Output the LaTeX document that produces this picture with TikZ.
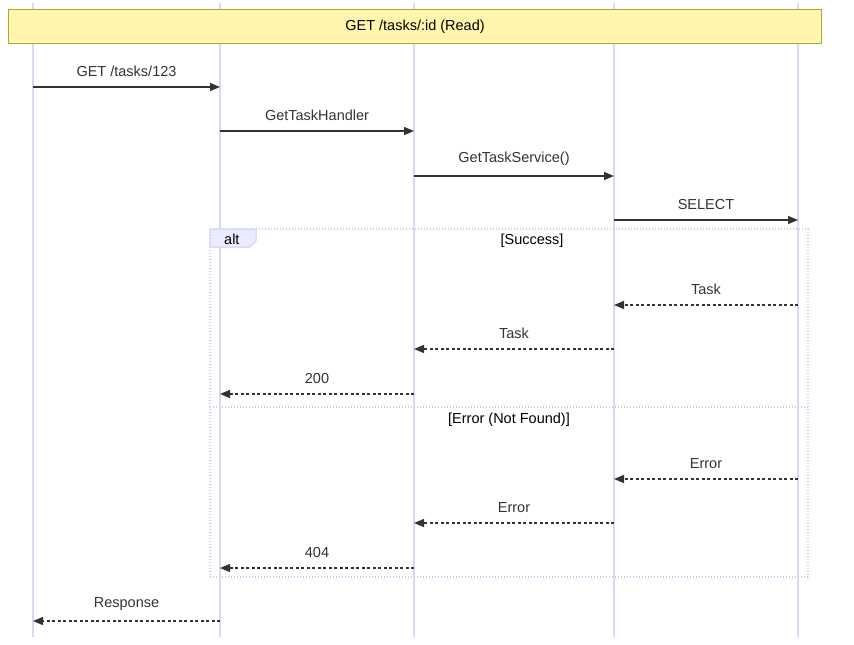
\documentclass[tikz,border=0pt]{standalone}
\usepackage{fontspec}
\setmainfont{Liberation Sans}
\usetikzlibrary{arrows.meta}
\usetikzlibrary{calc}
\definecolor{lifeC}{RGB}{221,214,248}
\definecolor{noteF}{RGB}{255,245,173}
\definecolor{noteD}{RGB}{170,170,51}
\definecolor{altD}{RGB}{204,204,245}
\definecolor{tabF}{RGB}{236,236,255}
\definecolor{msgC}{RGB}{51,51,51}

\begin{document}
\begin{tikzpicture} [x=1pt, y=-1pt,
        life/.style = {draw=lifeC, line width=1.5pt},
        msg/.style = {draw=msgC, line width=1.3pt, -{Triangle[length=10pt, width=8pt]}},
        reply/.style = {msg, dash pattern=on 3pt off 2.5pt},
        lbl/.style = {font=\fontsize{14.5}{16}\selectfont, text=msgC, inner sep=0pt},
        frame/.style = {draw=altD, line width=1.3pt, dash pattern=on 1.3pt off 1.7pt}]
        \useasboundingbox (0,0) rectangle (854,645);
        \fontsize{14.5}{16}\selectfont

        %Lebenslinien
        \coordinate (l1) at (33,3);
        \coordinate (l2) at (220,3);
        \coordinate (l3) at (414,3);
        \coordinate (l4) at (614,3);
        \coordinate (l5) at (798,3);
        \coordinate (bot) at (0,637);

        \draw[life] (l1) -- (l1 |- bot);
        \draw[life] (l2) -- (l2 |- bot);
        \draw[life] (l3) -- (l3 |- bot);
        \draw[life] (l4) -- (l4 |- bot);
        \draw[life] (l5) -- (l5 |- bot);

        %Notiz
        \node[draw=noteD, fill=noteF, line width=1pt, minimum width=813pt, minimum height=34pt,
              lbl, text=black, anchor=north west] (note) at (8,9) {GET /tasks/:id (Read)};

        %alt-Rahmen
        \coordinate (altnw) at (210,229);
        \coordinate (altse) at (808,577);
        \coordinate (altdiv) at (210,407);
        \draw[frame] (altnw) rectangle (altse);
        \draw[frame] (altdiv) -- (altdiv -| altse);
        \draw[draw=altD, fill=tabF, line width=1pt] (altnw) -- ++(46,0) -- ++(0,12) -- ++(-6,6) -- ++(-40,0) -- cycle;
        \node[lbl, text=black, anchor=west] (alt) at (224,239) {alt};
        \node[lbl, text=black] (succ) at (532,241) {[Success]};
        \node[lbl, text=black] (err) at (509,420) {[Error (Not Found)]};

        %Nachrichten
        \coordinate (m1) at (0,87);
        \coordinate (m2) at (0,131);
        \coordinate (m3) at (0,176);
        \coordinate (m4) at (0,220);
        \coordinate (m5) at (0,305);
        \coordinate (m6) at (0,349);
        \coordinate (m7) at (0,394);
        \coordinate (m8) at (0,479);
        \coordinate (m9) at (0,523);
        \coordinate (m10) at (0,568);
        \coordinate (m11) at (0,621);

        \draw[msg] (l1 |- m1) -- (l2 |- m1) node[midway, above=10pt, lbl] {GET /tasks/123};
        \draw[msg] (l2 |- m2) -- (l3 |- m2) node[midway, above=10pt, lbl] {GetTaskHandler};
        \draw[msg] (l3 |- m3) -- (l4 |- m3) node[midway, above=10pt, lbl] {GetTaskService()};
        \draw[msg] (l4 |- m4) -- (l5 |- m4) node[midway, above=10pt, lbl] {SELECT};

        \draw[reply] (l5 |- m5) -- (l4 |- m5) node[midway, above=10pt, lbl] {Task};
        \draw[reply] (l4 |- m6) -- (l3 |- m6) node[midway, above=10pt, lbl] {Task};
        \draw[reply] (l3 |- m7) -- (l2 |- m7) node[midway, above=10pt, lbl] {200};

        \draw[reply] (l5 |- m8) -- (l4 |- m8) node[midway, above=10pt, lbl] {Error};
        \draw[reply] (l4 |- m9) -- (l3 |- m9) node[midway, above=10pt, lbl] {Error};
        \draw[reply] (l3 |- m10) -- (l2 |- m10) node[midway, above=10pt, lbl] {404};

        \draw[reply] (l2 |- m11) -- (l1 |- m11) node[midway, above=10pt, lbl] {Response};

    \end{tikzpicture}
\end{document}
